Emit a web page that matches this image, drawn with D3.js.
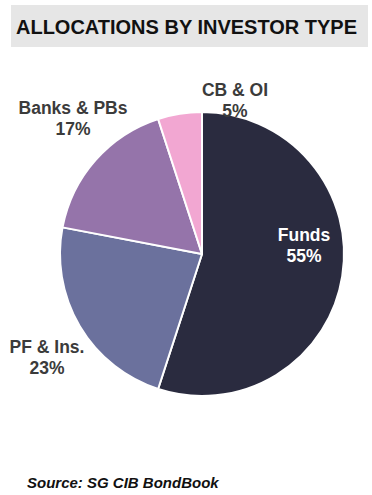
<!DOCTYPE html>
<html><head><meta charset="utf-8">
<script src="https://cdn.jsdelivr.net/npm/d3@7"></script>
<style>body{margin:0;background:#fff;}svg{display:block;}</style>
</head><body>
<svg id="c" width="372" height="495"></svg>
<script>
const categories = ["Funds", "PF & Ins.", "Banks & PBs", "CB & OI"];
const values = [55, 23, 17, 5];
const colors = ["#2a2b3f", "#6b719d", "#9574aa", "#f2a7d2"];
const labelPos = [[304, 235], [47, 347], [73, 108], [235, 90]];
const labelColors = ["#ffffff", "#3b3b3b", "#3b3b3b", "#3b3b3b"];

const svg = d3.select("#c");
const font = "'Liberation Sans', Arial, sans-serif";

svg.append("rect").attr("x", 11).attr("y", 5).attr("width", 357).attr("height", 42).attr("fill", "#e6e6e6");
svg.append("text").attr("x", 186.5).attr("y", 34).attr("text-anchor", "middle")
  .attr("font-family", font).attr("font-weight", "bold").attr("font-size", 19.5)
  .attr("fill", "#111").attr("textLength", 341).attr("lengthAdjust", "spacingAndGlyphs")
  .text("ALLOCATIONS BY INVESTOR TYPE");

const cx = 202, cy = 254, r = 142;
const pie = d3.pie().sort(null).value(d => d)(values);
const arc = d3.arc().innerRadius(0).outerRadius(r);
const g = svg.append("g").attr("transform", `translate(${cx},${cy})`);
g.selectAll("path").data(pie).join("path")
  .attr("d", arc).attr("fill", (d, i) => colors[i])
  .attr("stroke", "#fff").attr("stroke-width", 2).attr("stroke-linejoin", "round");

categories.forEach((c, i) => {
  const t = svg.append("text").attr("text-anchor", "middle")
    .attr("font-family", font).attr("font-weight", "bold").attr("font-size", 17.5)
    .attr("fill", labelColors[i]);
  t.append("tspan").attr("x", labelPos[i][0]).attr("y", labelPos[i][1] + 6).text(c);
  t.append("tspan").attr("x", labelPos[i][0]).attr("y", labelPos[i][1] + 27).text(values[i] + "%");
});

svg.append("text").attr("x", 27).attr("y", 488)
  .attr("font-family", font).attr("font-weight", "bold").attr("font-style", "italic")
  .attr("font-size", 15).attr("fill", "#111").text("Source: SG CIB BondBook");
</script>
</body></html>
